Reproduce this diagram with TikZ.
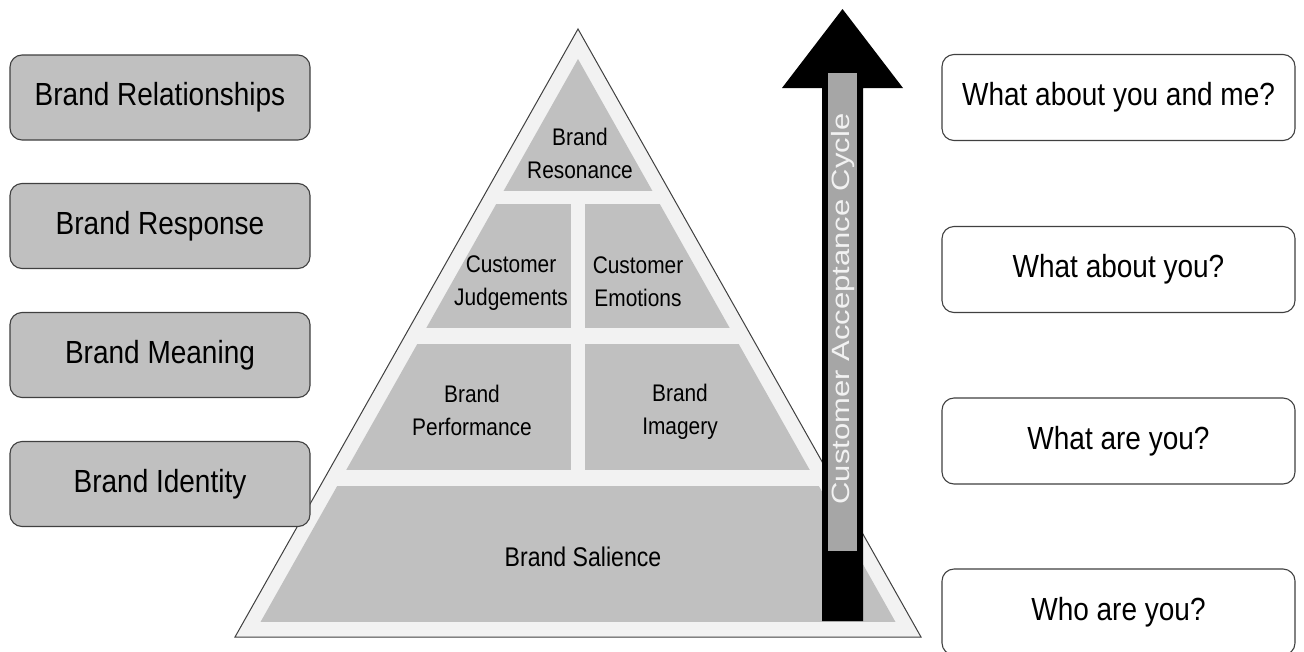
\documentclass[tikz,border=0pt]{standalone}
\usepackage{fontspec}
\setmainfont{Liberation Sans}
\usepackage{graphicx}
\definecolor{boxgray}{HTML}{C0C0C0}
\definecolor{pale}{HTML}{F2F2F2}
\definecolor{bardark}{HTML}{A6A6A6}
\definecolor{edge}{HTML}{404040}
\newcommand{\hsq}[1]{\scalebox{0.87}[1]{#1}}
\newcommand{\hbx}[1]{\scalebox{0.875}[1]{#1}}
\tikzset{
  levelbox/.style={draw=edge, line width=1.1pt, rounded corners=12pt, fill=boxgray,
    minimum width=300pt, minimum height=85pt, inner sep=0pt,
    font={\fontsize{32}{38}\selectfont}},
  askbox/.style={draw=edge, line width=1.1pt, rounded corners=12pt, fill=white,
    minimum width=353pt, minimum height=86pt, inner sep=0pt,
    font={\fontsize{32}{38}\selectfont}},
  celltext/.style={align=center, inner sep=0pt, font={\fontsize{24}{33}\selectfont}},
}
\begin{document}
\begin{tikzpicture}[x=1pt,y=-1pt]
\clip (0,0) rectangle (1304,651);
\fill[white] (0,0) rectangle (1304,651);
% outer triangle
\draw[fill=pale, draw=edge, line width=1pt] (578,29) -- (235,637) -- (921,637) -- cycle;
% inner gray cells clipped to the inner triangle
\begin{scope}
  \clip (578,59) -- (260.5,622) -- (895.5,622) -- cycle;
  \fill[boxgray] (200,50) rectangle (1000,191);
  \fill[boxgray] (200,204) rectangle (571,328);
  \fill[boxgray] (585,204) rectangle (1000,328);
  \fill[boxgray] (200,344) rectangle (571,470);
  \fill[boxgray] (585,344) rectangle (1000,470);
  \fill[boxgray] (200,486) rectangle (1000,622);
\end{scope}
% arrow
\fill[black] (822,621) -- (822,88) -- (782,88) -- (842.5,9) -- (903,88) -- (863,88) -- (863,621) -- cycle;
\fill[bardark] (828,73) rectangle (857,551);
\node[rotate=90, inner sep=0pt, text=pale, font={\fontsize{25}{30}\selectfont}] (cycle) at (843,309) {\scalebox{1.24}[1]{Customer Acceptance Cycle}};
% pyramid texts
\node[celltext] (res) at (580,153) {\hsq{Brand}\\\hsq{Resonance}};
\node[celltext] (jud) at (511,283) {\hsq{Customer}\\\hsq{Judgements}};
\node[celltext] (emo) at (638,282) {\hsq{Customer}\\\hsq{Emotions}};
\node[celltext] (perf) at (472,410) {\hsq{Brand}\\\hsq{Performance}};
\node[celltext] (img) at (680,412) {\hsq{Brand}\\\hsq{Imagery}};
\node[celltext, font={\fontsize{27}{33}\selectfont}] (sal) at (583,557) {\scalebox{0.855}[1]{Brand Salience}};
% left boxes
\node[levelbox] (rel) at (160,97.5) {\hbx{Brand Relationships}};
\node[levelbox] (resp) at (160,226) {\hbx{Brand Response}};
\node[levelbox] (mean) at (160,355) {\hbx{Brand Meaning}};
\node[levelbox] (iden) at (160,484) {\hbx{Brand Identity}};
% right boxes
\node[askbox] (q1) at (1118.5,97.5) {\hbx{What about you and me?}};
\node[askbox] (q2) at (1118.5,269.5) {\hbx{What about you?}};
\node[askbox] (q3) at (1118.5,441) {\hbx{What are you?}};
\node[askbox] (q4) at (1118.5,612) {\hbx{Who are you?}};
\end{tikzpicture}
\end{document}
